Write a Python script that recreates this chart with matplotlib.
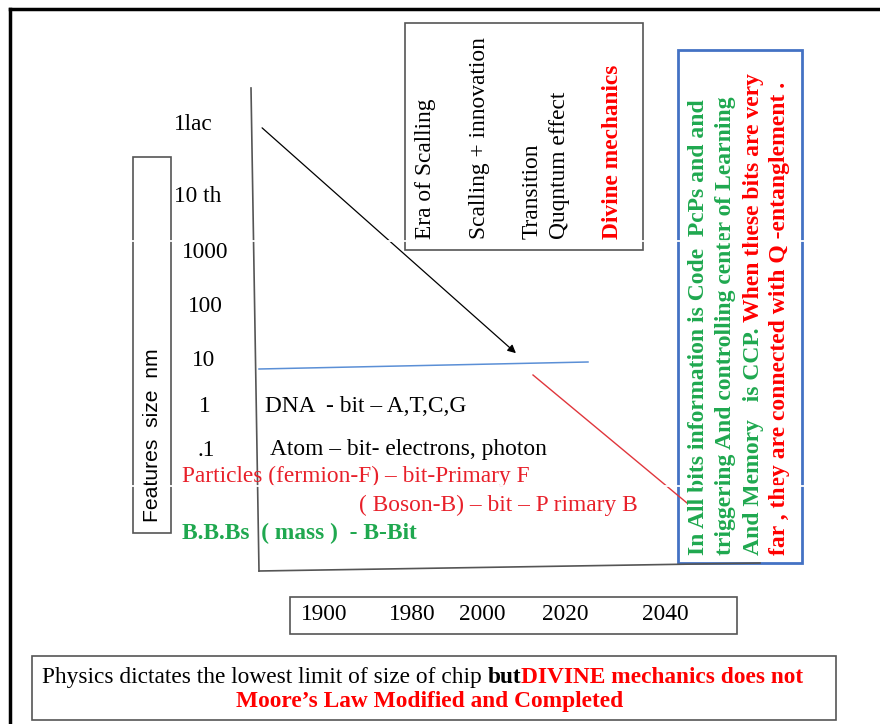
import matplotlib
matplotlib.use("Agg")
import matplotlib.pyplot as plt
from matplotlib.patches import Rectangle

plt.rcParams['font.family'] = ['Liberation Serif', 'DejaVu Serif']

# ---- content -------------------------------------------------------------
size_labels = ['1lac', '10 th', '1000', '100', '10', '1', '.1']
year_labels = ['1900', '1980', '2000', '2020', '2040']
y_title = 'Features  size  nm'

era_lines = ['Era of Scalling', 'Scalling + innovation', 'Transition',
             'Quqntum effect', 'Divine mechanics']
era_colors = ['black', 'black', 'black', 'black', 'red']
era_weights = ['normal', 'normal', 'normal', 'normal', 'bold']

level_texts = ['DNA  - bit \u2013 A,T,C,G',
               'Atom \u2013 bit- electrons, photon',
               'Particles (fermion-F) \u2013 bit-Primary F',
               '( Boson-B) \u2013 bit \u2013 P rimary B',
               'B.B.Bs  ( mass )  - B-Bit']
level_colors = ['black', 'black', '#e8202a', '#e8202a', '#1fa84f']
level_weights = ['normal', 'normal', 'normal', 'normal', 'bold']

# right box: each line is a list of (text, colour) pieces
note_lines = [
    [('In All bits information is Code  PcPs and and', '#1fa84f')],
    [('triggering And controlling center of Learning', '#1fa84f')],
    [('And Memory   is CCP. ', '#1fa84f'), ('When these bits are very', '#ff0000')],
    [('far , they are connected with Q -entanglement .', '#ff0000')],
]

caption1 = [('Physics dictates the lowest limit of size of chip ', 'black', 'normal'),
            ('but', 'black', 'bold'),
            ('DIVINE mechanics does not', '#ff0000', 'bold')]
caption2 = 'Moore\u2019s Law Modified and Completed'

# ---- layout (pixel coordinates, y down) ---------------------------------
size_x = [193, 198, 205, 205, 204, 205, 206]
size_y = [125, 197, 253, 307, 360, 407, 450]
year_x = [324, 412, 482, 565, 665]
era_x = [426, 479, 532, 559, 613]
level_xy = [(265, 407), (270, 450), (182, 476), (359, 505), (182, 533)]
note_x = [698, 726, 753, 780]
FS = 16.8

fig = plt.figure(figsize=(8.8, 7.24), dpi=100)
ax = fig.add_axes([0, 0, 1, 1])
ax.set_xlim(0, 880)
ax.set_ylim(724, 0)
ax.axis('off')

# slide frame
ax.plot([10, 880], [9, 9], color='black', lw=2.5)
ax.plot([10, 10], [9, 724], color='black', lw=2.5)

gray = '#555555'
# axes of the diagram
ax.plot([251, 259], [88, 571], color=gray, lw=1.2)
ax.plot([259, 760], [571, 563], color=gray, lw=1.2)

# y title box
ax.add_patch(Rectangle((133, 157), 38, 376, fill=False, ec=gray, lw=1.2))
ax.text(152, 435, y_title, rotation=90, ha='center', va='center',
        fontsize=15.2, family='Liberation Sans')

for lab, x, y in zip(size_labels, size_x, size_y):
    ax.text(x, y, lab, ha='center', va='center', fontsize=FS)

# era box
ax.add_patch(Rectangle((405, 23), 238, 227, fill=False, ec=gray, lw=1.2))
for txt, x, c, w in zip(era_lines, era_x, era_colors, era_weights):
    ax.text(x, 239, txt, rotation=90, ha='center', va='bottom',
            fontsize=FS, color=c, fontweight=w)

# trend lines
ax.annotate('', xy=(518, 355), xytext=(260, 126),
            arrowprops=dict(arrowstyle='-|>', color='black', lw=0.9,
                            mutation_scale=12))
ax.plot([259, 588], [369, 362], color='#5b8fd6', lw=1.1)
ax.plot([533, 687], [375, 503], color='#e0363c', lw=1.0)

for txt, (x, y), c, w in zip(level_texts, level_xy, level_colors, level_weights):
    ax.text(x, y, txt, ha='left', va='center', fontsize=FS, color=c,
            fontweight=w)

# right note box
ax.add_patch(Rectangle((678, 50), 124, 513, fill=False, ec='#4472c4', lw=2))
for pieces, x in zip(note_lines, note_x):
    prev = None
    for txt, c in pieces:
        if prev is None:
            prev = ax.text(x, 555, txt, rotation=90, ha='center', va='bottom',
                           fontsize=17, fontweight='bold', color=c)
        else:
            prev = ax.annotate(txt, xy=(0, 1), xycoords=prev, rotation=90,
                               ha='left', va='bottom', fontsize=17,
                               fontweight='bold', color=c)

# year box
ax.add_patch(Rectangle((290, 597), 447, 37, fill=False, ec=gray, lw=1.2))
for lab, x in zip(year_labels, year_x):
    ax.text(x, 615, lab, ha='center', va='center', fontsize=FS)

# caption box
ax.add_patch(Rectangle((32, 656), 804, 64, fill=False, ec=gray, lw=1.2))
prev = None
for txt, c, w in caption1:
    if prev is None:
        prev = ax.text(42, 688, txt, ha='left', va='bottom', fontsize=FS,
                       color=c, fontweight=w)
    else:
        prev = ax.annotate(txt, xy=(1, 0), xycoords=prev, ha='left',
                           va='bottom', fontsize=FS, color=c, fontweight=w)
ax.text(430, 702, caption2, ha='center', va='center', fontsize=FS,
        color='#ff0000', fontweight='bold')

# thin white seams that cut across the slide render
for ys in (241, 486):
    ax.plot([110, 820], [ys, ys], color='white', lw=1.3, zorder=10)

fig.savefig('out.png', dpi=100, facecolor='white')
